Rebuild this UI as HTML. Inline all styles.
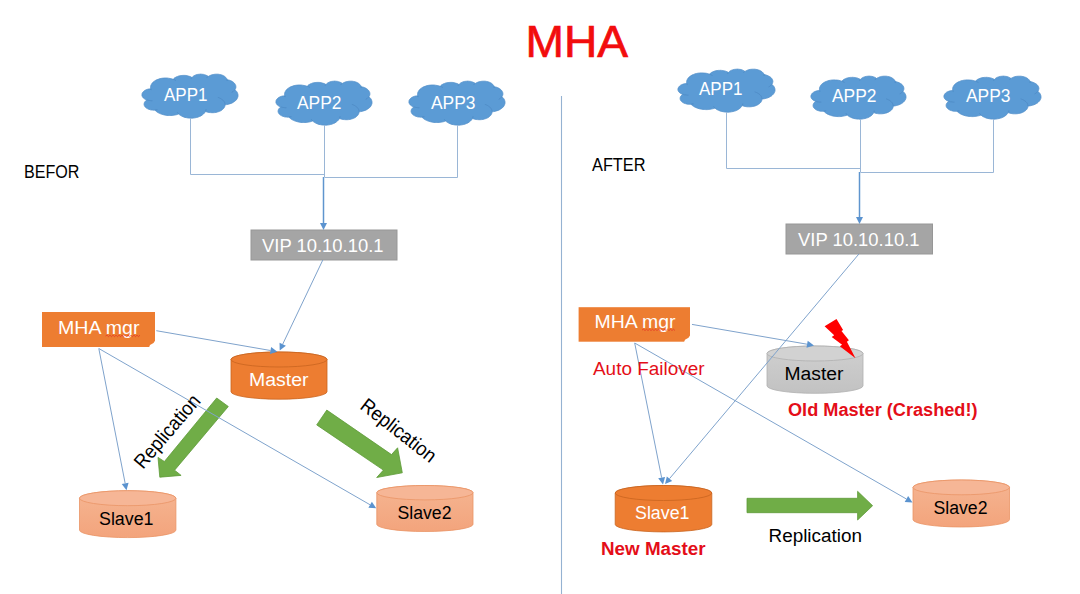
<!DOCTYPE html>
<html><head><meta charset="utf-8"><style>
html,body{margin:0;padding:0;background:#fff;width:1080px;height:594px;overflow:hidden}
svg{display:block}
text{font-family:"Liberation Sans", sans-serif}
</style></head><body>
<svg width="1080" height="594" viewBox="0 0 1080 594">
<defs>
<linearGradient id="gLO" x1="0" y1="0" x2="0" y2="1"><stop offset="0" stop-color="#F5B592"/><stop offset="1" stop-color="#F3A47C"/></linearGradient>
<linearGradient id="gGR" x1="0" y1="0" x2="0" y2="1"><stop offset="0" stop-color="#D0D0D0"/><stop offset="1" stop-color="#C2C2C2"/></linearGradient>
</defs>
<rect width="1080" height="594" fill="#fff"/>
<path d="M150.7,88.6L150.5,87.6L150.6,86.5L150.8,85.5L151.3,84.5L151.9,83.5L152.6,82.6L153.6,81.7L154.7,80.9L155.9,80.2L157.2,79.6L158.7,79.1L160.2,78.6L161.8,78.3L163.4,78.1L165.1,78.0L166.8,78.0L168.4,78.2L170.1,78.5L171.6,78.8L173.1,79.3L173.7,78.7L174.3,78.1L175.1,77.6L175.9,77.2L176.7,76.7L177.7,76.4L178.6,76.0L179.7,75.8L180.7,75.6L181.8,75.5L182.9,75.4L184.0,75.4L185.1,75.4L186.2,75.5L187.2,75.7L188.3,76.0L189.3,76.3L190.2,76.6L191.1,77.0L191.9,77.5L192.4,77.0L193.0,76.5L193.6,76.0L194.3,75.6L195.1,75.2L195.9,74.9L196.8,74.6L197.7,74.4L198.7,74.3L199.7,74.2L200.6,74.1L201.6,74.2L202.6,74.3L203.6,74.4L204.5,74.7L205.3,74.9L206.2,75.3L207.0,75.6L207.7,76.1L208.3,76.5L209.1,76.0L210.1,75.5L211.1,75.1L212.2,74.7L213.3,74.5L214.5,74.3L215.7,74.2L216.9,74.2L218.1,74.2L219.3,74.4L220.5,74.6L221.6,74.9L222.6,75.3L223.6,75.8L224.5,76.3L225.2,76.9L225.9,77.5L226.5,78.2L226.9,78.9L227.2,79.7L228.1,79.9L229.1,80.1L230.0,80.4L230.8,80.7L231.6,81.1L232.4,81.6L233.1,82.0L233.7,82.5L234.2,83.0L234.7,83.6L235.1,84.2L235.4,84.8L235.7,85.4L235.8,86.0L235.9,86.7L235.9,87.3L235.8,87.9L235.6,88.5L235.3,89.2L234.9,89.7L235.8,90.6L236.6,91.4L237.2,92.3L237.6,93.3L237.9,94.2L238.0,95.2L238.0,96.2L237.8,97.1L237.4,98.1L236.9,99.0L236.3,99.9L235.5,100.7L234.5,101.5L233.4,102.2L232.3,102.9L231.0,103.4L229.6,103.9L228.2,104.3L226.7,104.6L225.1,104.8L225.0,105.6L224.8,106.4L224.4,107.3L223.9,108.1L223.3,108.8L222.5,109.5L221.7,110.2L220.7,110.8L219.6,111.3L218.5,111.7L217.2,112.1L215.9,112.4L214.6,112.6L213.3,112.7L211.9,112.7L210.5,112.6L209.2,112.5L207.9,112.2L206.7,111.9L205.5,111.5L204.9,112.5L204.1,113.4L203.2,114.3L202.1,115.1L200.9,115.9L199.6,116.5L198.1,117.1L196.6,117.5L195.0,117.8L193.3,118.1L191.6,118.2L189.9,118.1L188.2,118.0L186.6,117.7L185.0,117.4L183.5,116.9L182.1,116.3L180.8,115.6L179.6,114.8L178.6,114.0L177.4,114.4L176.2,114.8L174.9,115.0L173.6,115.3L172.2,115.4L170.9,115.5L169.5,115.5L168.2,115.5L166.8,115.4L165.5,115.2L164.2,114.9L162.9,114.6L161.7,114.2L160.5,113.8L159.4,113.3L158.3,112.8L157.3,112.2L156.4,111.5L155.6,110.9L154.9,110.1L153.7,110.2L152.5,110.1L151.4,110.0L150.3,109.8L149.2,109.4L148.2,109.1L147.3,108.6L146.4,108.1L145.7,107.5L145.1,106.9L144.7,106.2L144.3,105.5L144.1,104.8L144.1,104.0L144.2,103.3L144.4,102.6L144.8,101.9L145.3,101.2L145.9,100.6L146.7,100.0L145.7,99.6L144.8,99.1L144.0,98.5L143.3,97.9L142.7,97.2L142.3,96.5L142.0,95.8L141.9,95.0L142.0,94.3L142.1,93.5L142.5,92.8L142.9,92.1L143.6,91.4L144.3,90.8L145.1,90.3L146.1,89.8L147.1,89.4L148.2,89.1L149.4,88.9L150.6,88.8Z" fill="#5B9BD5" stroke="#5490CA" stroke-width="0.8"/>
<path d="M152.4,100.7L151.9,100.7L151.5,100.7L151.0,100.7L150.5,100.6L150.0,100.6L149.5,100.5L149.0,100.4L148.6,100.4L148.1,100.3L147.7,100.1L147.2,100.0L146.8,99.8M157.4,109.5L157.2,109.6L157.0,109.6L156.8,109.7L156.6,109.7L156.4,109.8L156.2,109.8L156.0,109.8L155.8,109.8L155.6,109.9L155.4,109.9L155.1,109.9L154.9,109.9M178.6,113.8L178.5,113.7L178.3,113.5L178.2,113.4L178.1,113.2L177.9,113.1L177.8,113.0L177.7,112.8L177.6,112.7L177.4,112.5L177.3,112.4L177.2,112.2L177.1,112.0M206.1,109.4L206.0,109.6L206.0,109.7L206.0,109.9L205.9,110.1L205.9,110.2L205.8,110.4L205.8,110.5L205.7,110.7L205.7,110.9L205.6,111.0L205.5,111.2L205.5,111.3M217.8,97.4L218.9,97.7L219.9,98.2L220.8,98.6L221.7,99.2L222.5,99.7L223.1,100.4L223.7,101.0L224.2,101.7L224.6,102.4L224.9,103.2L225.0,103.9L225.1,104.6M234.9,89.6L234.7,89.9L234.5,90.2L234.3,90.4L234.0,90.6L233.8,90.9L233.5,91.1L233.3,91.3L233.0,91.6L232.7,91.8L232.3,92.0L232.0,92.2L231.7,92.4M227.2,79.5L227.2,79.6L227.2,79.7L227.2,79.8L227.3,80.0L227.3,80.1L227.3,80.2L227.3,80.3L227.3,80.4L227.3,80.5L227.3,80.6L227.3,80.7L227.3,80.8M206.6,78.0L206.7,77.9L206.8,77.7L207.0,77.6L207.1,77.4L207.2,77.3L207.3,77.2L207.5,77.0L207.6,76.9L207.8,76.8L207.9,76.6L208.1,76.5L208.3,76.4M191.2,78.8L191.2,78.7L191.3,78.6L191.3,78.4L191.4,78.3L191.5,78.2L191.5,78.1L191.6,78.0L191.7,77.8L191.7,77.7L191.8,77.6L191.9,77.5L192.0,77.4M173.1,79.3L173.4,79.4L173.6,79.5L173.9,79.6L174.1,79.7L174.4,79.8L174.6,79.9L174.9,80.0L175.1,80.2L175.3,80.3L175.6,80.4L175.8,80.5L176.0,80.7M151.2,90.1L151.1,90.0L151.1,89.8L151.0,89.7L151.0,89.6L150.9,89.5L150.9,89.4L150.8,89.2L150.8,89.1L150.8,89.0L150.7,88.9L150.7,88.8L150.7,88.6" fill="none" stroke="#4A84BF" stroke-width="0.6"/>
<path d="M284.7,95.6L284.5,94.6L284.6,93.5L284.8,92.5L285.3,91.5L285.9,90.5L286.6,89.6L287.6,88.7L288.7,87.9L289.9,87.2L291.2,86.6L292.7,86.1L294.2,85.6L295.8,85.3L297.4,85.1L299.1,85.0L300.8,85.0L302.4,85.2L304.1,85.5L305.6,85.8L307.1,86.3L307.7,85.7L308.3,85.1L309.1,84.6L309.9,84.2L310.7,83.7L311.7,83.4L312.6,83.0L313.7,82.8L314.7,82.6L315.8,82.5L316.9,82.4L318.0,82.4L319.1,82.4L320.2,82.5L321.2,82.7L322.3,83.0L323.3,83.3L324.2,83.6L325.1,84.0L325.9,84.5L326.4,84.0L327.0,83.5L327.6,83.0L328.3,82.6L329.1,82.2L329.9,81.9L330.8,81.6L331.7,81.4L332.7,81.3L333.7,81.2L334.6,81.1L335.6,81.2L336.6,81.3L337.6,81.4L338.5,81.7L339.3,81.9L340.2,82.3L341.0,82.6L341.7,83.1L342.3,83.5L343.1,83.0L344.1,82.5L345.1,82.1L346.2,81.7L347.3,81.5L348.5,81.3L349.7,81.2L350.9,81.2L352.1,81.2L353.3,81.4L354.5,81.6L355.6,81.9L356.6,82.3L357.6,82.8L358.5,83.3L359.2,83.9L359.9,84.5L360.5,85.2L360.9,85.9L361.2,86.7L362.1,86.9L363.1,87.1L364.0,87.4L364.8,87.7L365.6,88.1L366.4,88.6L367.1,89.0L367.7,89.5L368.2,90.0L368.7,90.6L369.1,91.2L369.4,91.8L369.7,92.4L369.8,93.0L369.9,93.7L369.9,94.3L369.8,94.9L369.6,95.5L369.3,96.2L368.9,96.7L369.8,97.6L370.6,98.4L371.2,99.3L371.6,100.3L371.9,101.2L372.0,102.2L372.0,103.2L371.8,104.1L371.4,105.1L370.9,106.0L370.3,106.9L369.5,107.7L368.5,108.5L367.4,109.2L366.3,109.9L365.0,110.4L363.6,110.9L362.2,111.3L360.7,111.6L359.1,111.8L359.0,112.6L358.8,113.4L358.4,114.3L357.9,115.1L357.3,115.8L356.5,116.5L355.7,117.2L354.7,117.8L353.6,118.3L352.5,118.7L351.2,119.1L349.9,119.4L348.6,119.6L347.3,119.7L345.9,119.7L344.5,119.6L343.2,119.5L341.9,119.2L340.7,118.9L339.5,118.5L338.9,119.5L338.1,120.4L337.2,121.3L336.1,122.1L334.9,122.9L333.6,123.5L332.1,124.1L330.6,124.5L329.0,124.8L327.3,125.1L325.6,125.2L323.9,125.1L322.2,125.0L320.6,124.7L319.0,124.4L317.5,123.9L316.1,123.3L314.8,122.6L313.6,121.8L312.6,121.0L311.4,121.4L310.2,121.8L308.9,122.0L307.6,122.3L306.2,122.4L304.9,122.5L303.5,122.5L302.2,122.5L300.8,122.4L299.5,122.2L298.2,121.9L296.9,121.6L295.7,121.2L294.5,120.8L293.4,120.3L292.3,119.8L291.3,119.2L290.4,118.5L289.6,117.9L288.9,117.1L287.7,117.2L286.5,117.1L285.4,117.0L284.3,116.8L283.2,116.4L282.2,116.1L281.3,115.6L280.4,115.1L279.7,114.5L279.1,113.9L278.7,113.2L278.3,112.5L278.1,111.8L278.1,111.0L278.2,110.3L278.4,109.6L278.8,108.9L279.3,108.2L279.9,107.6L280.7,107.0L279.7,106.6L278.8,106.1L278.0,105.5L277.3,104.9L276.7,104.2L276.3,103.5L276.0,102.8L275.9,102.0L276.0,101.3L276.1,100.5L276.5,99.8L276.9,99.1L277.6,98.4L278.3,97.8L279.1,97.3L280.1,96.8L281.1,96.4L282.2,96.1L283.4,95.9L284.6,95.8Z" fill="#5B9BD5" stroke="#5490CA" stroke-width="0.8"/>
<path d="M286.4,107.7L285.9,107.7L285.5,107.7L285.0,107.7L284.5,107.6L284.0,107.6L283.5,107.5L283.0,107.4L282.6,107.4L282.1,107.3L281.7,107.1L281.2,107.0L280.8,106.8M291.4,116.5L291.2,116.6L291.0,116.6L290.8,116.7L290.6,116.7L290.4,116.8L290.2,116.8L290.0,116.8L289.8,116.8L289.6,116.9L289.4,116.9L289.1,116.9L288.9,116.9M312.6,120.8L312.5,120.7L312.3,120.5L312.2,120.4L312.1,120.2L311.9,120.1L311.8,120.0L311.7,119.8L311.6,119.7L311.4,119.5L311.3,119.4L311.2,119.2L311.1,119.0M340.1,116.4L340.0,116.6L340.0,116.7L340.0,116.9L339.9,117.1L339.9,117.2L339.8,117.4L339.8,117.5L339.7,117.7L339.7,117.9L339.6,118.0L339.5,118.2L339.5,118.3M351.8,104.4L352.9,104.7L353.9,105.2L354.8,105.6L355.7,106.2L356.5,106.7L357.1,107.4L357.7,108.0L358.2,108.7L358.6,109.4L358.9,110.2L359.0,110.9L359.1,111.6M368.9,96.6L368.7,96.9L368.5,97.2L368.3,97.4L368.0,97.6L367.8,97.9L367.5,98.1L367.3,98.3L367.0,98.6L366.7,98.8L366.3,99.0L366.0,99.2L365.7,99.4M361.2,86.5L361.2,86.6L361.2,86.7L361.2,86.8L361.3,87.0L361.3,87.1L361.3,87.2L361.3,87.3L361.3,87.4L361.3,87.5L361.3,87.6L361.3,87.7L361.3,87.8M340.6,85.0L340.7,84.9L340.8,84.7L341.0,84.6L341.1,84.4L341.2,84.3L341.3,84.2L341.5,84.0L341.6,83.9L341.8,83.8L341.9,83.6L342.1,83.5L342.3,83.4M325.2,85.8L325.2,85.7L325.3,85.6L325.3,85.4L325.4,85.3L325.5,85.2L325.5,85.1L325.6,85.0L325.7,84.8L325.7,84.7L325.8,84.6L325.9,84.5L326.0,84.4M307.1,86.3L307.4,86.4L307.6,86.5L307.9,86.6L308.1,86.7L308.4,86.8L308.6,86.9L308.9,87.0L309.1,87.2L309.3,87.3L309.6,87.4L309.8,87.5L310.0,87.7M285.2,97.1L285.1,97.0L285.1,96.8L285.0,96.7L285.0,96.6L284.9,96.5L284.9,96.4L284.8,96.2L284.8,96.1L284.8,96.0L284.7,95.9L284.7,95.8L284.7,95.6" fill="none" stroke="#4A84BF" stroke-width="0.6"/>
<path d="M417.7,95.6L417.5,94.6L417.6,93.5L417.8,92.5L418.3,91.5L418.9,90.5L419.6,89.6L420.6,88.7L421.7,87.9L422.9,87.2L424.2,86.6L425.7,86.1L427.2,85.6L428.8,85.3L430.4,85.1L432.1,85.0L433.8,85.0L435.4,85.2L437.1,85.5L438.6,85.8L440.1,86.3L440.7,85.7L441.3,85.1L442.1,84.6L442.9,84.2L443.7,83.7L444.7,83.4L445.6,83.0L446.7,82.8L447.7,82.6L448.8,82.5L449.9,82.4L451.0,82.4L452.1,82.4L453.2,82.5L454.2,82.7L455.3,83.0L456.3,83.3L457.2,83.6L458.1,84.0L458.9,84.5L459.4,84.0L460.0,83.5L460.6,83.0L461.3,82.6L462.1,82.2L462.9,81.9L463.8,81.6L464.7,81.4L465.7,81.3L466.7,81.2L467.6,81.1L468.6,81.2L469.6,81.3L470.6,81.4L471.5,81.7L472.3,81.9L473.2,82.3L474.0,82.6L474.7,83.1L475.3,83.5L476.1,83.0L477.1,82.5L478.1,82.1L479.2,81.7L480.3,81.5L481.5,81.3L482.7,81.2L483.9,81.2L485.1,81.2L486.3,81.4L487.5,81.6L488.6,81.9L489.6,82.3L490.6,82.8L491.5,83.3L492.2,83.9L492.9,84.5L493.5,85.2L493.9,85.9L494.2,86.7L495.1,86.9L496.1,87.1L497.0,87.4L497.8,87.7L498.6,88.1L499.4,88.6L500.1,89.0L500.7,89.5L501.2,90.0L501.7,90.6L502.1,91.2L502.4,91.8L502.7,92.4L502.8,93.0L502.9,93.7L502.9,94.3L502.8,94.9L502.6,95.5L502.3,96.2L501.9,96.7L502.8,97.6L503.6,98.4L504.2,99.3L504.6,100.3L504.9,101.2L505.0,102.2L505.0,103.2L504.8,104.1L504.4,105.1L503.9,106.0L503.3,106.9L502.5,107.7L501.5,108.5L500.4,109.2L499.3,109.9L498.0,110.4L496.6,110.9L495.2,111.3L493.7,111.6L492.1,111.8L492.0,112.6L491.8,113.4L491.4,114.3L490.9,115.1L490.3,115.8L489.5,116.5L488.7,117.2L487.7,117.8L486.6,118.3L485.5,118.7L484.2,119.1L482.9,119.4L481.6,119.6L480.3,119.7L478.9,119.7L477.5,119.6L476.2,119.5L474.9,119.2L473.7,118.9L472.5,118.5L471.9,119.5L471.1,120.4L470.2,121.3L469.1,122.1L467.9,122.9L466.6,123.5L465.1,124.1L463.6,124.5L462.0,124.8L460.3,125.1L458.6,125.2L456.9,125.1L455.2,125.0L453.6,124.7L452.0,124.4L450.5,123.9L449.1,123.3L447.8,122.6L446.6,121.8L445.6,121.0L444.4,121.4L443.2,121.8L441.9,122.0L440.6,122.3L439.2,122.4L437.9,122.5L436.5,122.5L435.2,122.5L433.8,122.4L432.5,122.2L431.2,121.9L429.9,121.6L428.7,121.2L427.5,120.8L426.4,120.3L425.3,119.8L424.3,119.2L423.4,118.5L422.6,117.9L421.9,117.1L420.7,117.2L419.5,117.1L418.4,117.0L417.3,116.8L416.2,116.4L415.2,116.1L414.3,115.6L413.4,115.1L412.7,114.5L412.1,113.9L411.7,113.2L411.3,112.5L411.1,111.8L411.1,111.0L411.2,110.3L411.4,109.6L411.8,108.9L412.3,108.2L412.9,107.6L413.7,107.0L412.7,106.6L411.8,106.1L411.0,105.5L410.3,104.9L409.7,104.2L409.3,103.5L409.0,102.8L408.9,102.0L409.0,101.3L409.1,100.5L409.5,99.8L409.9,99.1L410.6,98.4L411.3,97.8L412.1,97.3L413.1,96.8L414.1,96.4L415.2,96.1L416.4,95.9L417.6,95.8Z" fill="#5B9BD5" stroke="#5490CA" stroke-width="0.8"/>
<path d="M419.4,107.7L418.9,107.7L418.5,107.7L418.0,107.7L417.5,107.6L417.0,107.6L416.5,107.5L416.0,107.4L415.6,107.4L415.1,107.3L414.7,107.1L414.2,107.0L413.8,106.8M424.4,116.5L424.2,116.6L424.0,116.6L423.8,116.7L423.6,116.7L423.4,116.8L423.2,116.8L423.0,116.8L422.8,116.8L422.6,116.9L422.4,116.9L422.1,116.9L421.9,116.9M445.6,120.8L445.5,120.7L445.3,120.5L445.2,120.4L445.1,120.2L444.9,120.1L444.8,120.0L444.7,119.8L444.6,119.7L444.4,119.5L444.3,119.4L444.2,119.2L444.1,119.0M473.1,116.4L473.0,116.6L473.0,116.7L473.0,116.9L472.9,117.1L472.9,117.2L472.8,117.4L472.8,117.5L472.7,117.7L472.7,117.9L472.6,118.0L472.5,118.2L472.5,118.3M484.8,104.4L485.9,104.7L486.9,105.2L487.8,105.6L488.7,106.2L489.5,106.7L490.1,107.4L490.7,108.0L491.2,108.7L491.6,109.4L491.9,110.2L492.0,110.9L492.1,111.6M501.9,96.6L501.7,96.9L501.5,97.2L501.3,97.4L501.0,97.6L500.8,97.9L500.5,98.1L500.3,98.3L500.0,98.6L499.7,98.8L499.3,99.0L499.0,99.2L498.7,99.4M494.2,86.5L494.2,86.6L494.2,86.7L494.2,86.8L494.3,87.0L494.3,87.1L494.3,87.2L494.3,87.3L494.3,87.4L494.3,87.5L494.3,87.6L494.3,87.7L494.3,87.8M473.6,85.0L473.7,84.9L473.8,84.7L474.0,84.6L474.1,84.4L474.2,84.3L474.3,84.2L474.5,84.0L474.6,83.9L474.8,83.8L474.9,83.6L475.1,83.5L475.3,83.4M458.2,85.8L458.2,85.7L458.3,85.6L458.3,85.4L458.4,85.3L458.5,85.2L458.5,85.1L458.6,85.0L458.7,84.8L458.7,84.7L458.8,84.6L458.9,84.5L459.0,84.4M440.1,86.3L440.4,86.4L440.6,86.5L440.9,86.6L441.1,86.7L441.4,86.8L441.6,86.9L441.9,87.0L442.1,87.2L442.3,87.3L442.6,87.4L442.8,87.5L443.0,87.7M418.2,97.1L418.1,97.0L418.1,96.8L418.0,96.7L418.0,96.6L417.9,96.5L417.9,96.4L417.8,96.2L417.8,96.1L417.8,96.0L417.7,95.9L417.7,95.8L417.7,95.6" fill="none" stroke="#4A84BF" stroke-width="0.6"/>
<rect x="251" y="230" width="146" height="30" fill="#A5A5A5" stroke="#979797" stroke-width="1"/>
<rect x="42" y="312" width="113" height="35" fill="#ED7D31"/>
<polygon points="155.5,340 155.5,347.5 149,347.5 150,345 153.5,343" fill="#fff"/>
<path d="M231,359.5 L231,391.7 A48.0,7.5 0 0 0 327,391.7 L327,359.5 A48.0,7.5 0 0 0 231,359.5 Z" fill="#ED7D31" stroke="#C9651F" stroke-width="0.8"/>
<ellipse cx="279.0" cy="359.5" rx="48.0" ry="7.5" fill="#ED7D31" stroke="#C9651F" stroke-width="0.8"/>
<path d="M79.5,498.2 L79.5,530.1 A48.2,7.5 0 0 0 175.9,530.1 L175.9,498.2 A48.2,7.5 0 0 0 79.5,498.2 Z" fill="url(#gLO)" stroke="#EA9466" stroke-width="0.8"/>
<ellipse cx="127.7" cy="498.2" rx="48.2" ry="7.5" fill="#F6B696" stroke="#EA9466" stroke-width="0.8"/>
<path d="M376.8,492.7 L376.8,524.3 A48.099999999999994,7.2 0 0 0 473,524.3 L473,492.7 A48.099999999999994,7.2 0 0 0 376.8,492.7 Z" fill="url(#gLO)" stroke="#EA9466" stroke-width="0.8"/>
<ellipse cx="424.9" cy="492.7" rx="48.099999999999994" ry="7.2" fill="#F6B696" stroke="#EA9466" stroke-width="0.8"/>
<polygon points="216.7,398.0 228.3,406.5 174.6,470.2 181.1,475.4 159.8,477.2 158.0,457.4 164.4,461.5" fill="#70AD47" stroke="#5E9A38" stroke-width="0.8"/>
<polygon points="326.8,410.1 316.7,424.9 383.4,470.1 376.7,477.5 402.3,472.8 397.6,447.8 391.5,454.6" fill="#70AD47" stroke="#5E9A38" stroke-width="0.8"/>
<path d="M686.8,83.3L686.6,82.3L686.7,81.3L686.9,80.3L687.4,79.3L688.0,78.3L688.7,77.4L689.7,76.6L690.8,75.8L692.0,75.1L693.4,74.5L694.8,73.9L696.4,73.5L698.0,73.2L699.7,73.0L701.3,72.9L703.0,73.0L704.7,73.1L706.4,73.3L707.9,73.7L709.4,74.2L710.0,73.6L710.7,73.1L711.4,72.5L712.2,72.1L713.1,71.7L714.0,71.3L715.0,71.0L716.0,70.7L717.1,70.6L718.2,70.4L719.3,70.4L720.4,70.3L721.5,70.4L722.6,70.5L723.7,70.7L724.7,70.9L725.7,71.2L726.7,71.6L727.6,72.0L728.4,72.4L728.9,71.9L729.5,71.4L730.1,71.0L730.9,70.5L731.6,70.2L732.5,69.9L733.4,69.6L734.3,69.4L735.3,69.3L736.3,69.2L737.3,69.1L738.3,69.2L739.2,69.3L740.2,69.4L741.1,69.6L742.0,69.9L742.8,70.2L743.6,70.6L744.3,71.0L745.0,71.5L745.8,70.9L746.8,70.5L747.8,70.0L748.9,69.7L750.1,69.4L751.2,69.3L752.5,69.2L753.7,69.2L754.9,69.2L756.1,69.4L757.3,69.6L758.4,69.9L759.5,70.3L760.5,70.8L761.3,71.3L762.1,71.8L762.8,72.5L763.3,73.1L763.8,73.8L764.0,74.6L765.0,74.7L766.0,75.0L766.9,75.3L767.7,75.6L768.5,76.0L769.3,76.4L770.0,76.8L770.6,77.3L771.2,77.8L771.7,78.4L772.1,79.0L772.4,79.5L772.6,80.1L772.8,80.8L772.9,81.4L772.8,82.0L772.7,82.6L772.5,83.2L772.3,83.8L771.9,84.4L772.8,85.2L773.6,86.0L774.2,86.9L774.6,87.8L774.9,88.8L775.0,89.7L775.0,90.7L774.8,91.6L774.4,92.5L773.9,93.4L773.2,94.3L772.4,95.1L771.5,95.9L770.4,96.6L769.2,97.2L767.9,97.8L766.5,98.2L765.1,98.6L763.5,98.9L762.0,99.1L761.9,99.9L761.7,100.7L761.3,101.5L760.8,102.3L760.2,103.0L759.4,103.7L758.5,104.3L757.5,104.9L756.4,105.4L755.3,105.9L754.0,106.2L752.7,106.5L751.4,106.7L750.0,106.8L748.6,106.8L747.3,106.8L745.9,106.6L744.6,106.4L743.3,106.0L742.1,105.6L741.5,106.6L740.8,107.5L739.8,108.4L738.7,109.2L737.5,109.9L736.2,110.6L734.7,111.1L733.1,111.5L731.5,111.8L729.8,112.1L728.1,112.2L726.4,112.1L724.7,112.0L723.1,111.7L721.5,111.4L719.9,110.9L718.5,110.3L717.2,109.7L716.0,108.9L715.0,108.1L713.8,108.5L712.5,108.8L711.2,109.1L709.9,109.3L708.6,109.5L707.2,109.6L705.8,109.6L704.4,109.5L703.1,109.4L701.7,109.2L700.4,109.0L699.1,108.7L697.9,108.3L696.7,107.9L695.5,107.4L694.5,106.9L693.5,106.3L692.6,105.7L691.8,105.0L691.0,104.3L689.8,104.3L688.7,104.3L687.5,104.2L686.3,103.9L685.3,103.6L684.2,103.3L683.3,102.8L682.5,102.3L681.8,101.7L681.2,101.1L680.7,100.5L680.3,99.8L680.2,99.1L680.1,98.3L680.2,97.6L680.4,96.9L680.8,96.2L681.3,95.6L682.0,95.0L682.7,94.4L681.7,94.0L680.8,93.5L680.0,93.0L679.3,92.4L678.7,91.7L678.3,91.0L678.0,90.3L677.9,89.5L678.0,88.8L678.1,88.1L678.5,87.4L679.0,86.7L679.6,86.0L680.3,85.4L681.2,84.9L682.1,84.5L683.2,84.1L684.3,83.8L685.5,83.6L686.7,83.4Z" fill="#5B9BD5" stroke="#5490CA" stroke-width="0.8"/>
<path d="M688.5,95.1L688.0,95.1L687.6,95.1L687.1,95.1L686.6,95.0L686.1,95.0L685.6,94.9L685.1,94.8L684.6,94.8L684.2,94.7L683.7,94.5L683.3,94.4L682.8,94.3M693.6,103.7L693.4,103.8L693.2,103.8L693.0,103.9L692.7,103.9L692.5,103.9L692.3,104.0L692.1,104.0L691.9,104.0L691.7,104.1L691.5,104.1L691.3,104.1L691.1,104.1M715.0,107.9L714.9,107.8L714.7,107.6L714.6,107.5L714.4,107.4L714.3,107.2L714.2,107.1L714.0,106.9L713.9,106.8L713.8,106.6L713.7,106.5L713.6,106.3L713.5,106.2M742.7,103.6L742.7,103.8L742.7,103.9L742.6,104.1L742.6,104.2L742.6,104.4L742.5,104.5L742.5,104.7L742.4,104.9L742.3,105.0L742.3,105.2L742.2,105.3L742.1,105.5M754.6,91.8L755.7,92.2L756.7,92.6L757.7,93.1L758.5,93.6L759.3,94.2L760.0,94.8L760.6,95.4L761.1,96.1L761.5,96.8L761.7,97.5L761.9,98.2L761.9,99.0M771.9,84.3L771.7,84.5L771.5,84.8L771.2,85.0L771.0,85.3L770.7,85.5L770.5,85.7L770.2,85.9L769.9,86.2L769.6,86.4L769.3,86.6L768.9,86.8L768.6,86.9M764.1,74.4L764.1,74.5L764.1,74.6L764.1,74.7L764.2,74.8L764.2,74.9L764.2,75.0L764.2,75.1L764.2,75.2L764.2,75.3L764.2,75.4L764.2,75.6L764.2,75.7M743.3,72.9L743.4,72.8L743.5,72.6L743.6,72.5L743.8,72.4L743.9,72.2L744.0,72.1L744.2,72.0L744.3,71.8L744.5,71.7L744.6,71.6L744.8,71.5L745.0,71.3M727.7,73.7L727.8,73.6L727.8,73.5L727.9,73.3L727.9,73.2L728.0,73.1L728.0,73.0L728.1,72.9L728.2,72.8L728.3,72.6L728.3,72.5L728.4,72.4L728.5,72.3M709.4,74.2L709.7,74.3L710.0,74.4L710.2,74.5L710.5,74.6L710.7,74.7L711.0,74.8L711.2,74.9L711.4,75.0L711.7,75.1L711.9,75.3L712.1,75.4L712.4,75.5M687.3,84.7L687.2,84.6L687.2,84.5L687.1,84.4L687.1,84.3L687.0,84.1L687.0,84.0L686.9,83.9L686.9,83.8L686.8,83.7L686.8,83.5L686.8,83.4L686.8,83.3" fill="none" stroke="#4A84BF" stroke-width="0.6"/>
<path d="M819.6,90.3L819.4,89.3L819.5,88.3L819.7,87.3L820.2,86.3L820.8,85.3L821.5,84.4L822.4,83.6L823.5,82.8L824.7,82.1L826.1,81.5L827.5,80.9L829.0,80.5L830.6,80.2L832.2,80.0L833.9,79.9L835.5,80.0L837.2,80.1L838.8,80.3L840.3,80.7L841.8,81.2L842.4,80.6L843.0,80.1L843.7,79.5L844.5,79.1L845.4,78.7L846.3,78.3L847.3,78.0L848.3,77.7L849.3,77.6L850.4,77.4L851.5,77.4L852.5,77.3L853.6,77.4L854.7,77.5L855.8,77.7L856.8,77.9L857.8,78.2L858.7,78.6L859.6,79.0L860.4,79.4L860.9,78.9L861.4,78.4L862.1,78.0L862.8,77.5L863.5,77.2L864.4,76.9L865.2,76.6L866.2,76.4L867.1,76.3L868.1,76.2L869.0,76.1L870.0,76.2L871.0,76.3L871.9,76.4L872.8,76.6L873.7,76.9L874.5,77.2L875.3,77.6L876.0,78.0L876.6,78.5L877.4,77.9L878.4,77.5L879.4,77.0L880.4,76.7L881.6,76.4L882.7,76.3L883.9,76.2L885.1,76.2L886.3,76.2L887.5,76.4L888.7,76.6L889.8,76.9L890.8,77.3L891.8,77.8L892.6,78.3L893.4,78.8L894.0,79.5L894.6,80.1L895.0,80.8L895.3,81.6L896.2,81.7L897.1,82.0L898.0,82.3L898.9,82.6L899.7,83.0L900.4,83.4L901.1,83.8L901.7,84.3L902.3,84.8L902.7,85.4L903.1,86.0L903.5,86.5L903.7,87.1L903.8,87.8L903.9,88.4L903.9,89.0L903.8,89.6L903.6,90.2L903.3,90.8L903.0,91.4L903.8,92.2L904.6,93.0L905.2,93.9L905.6,94.8L905.9,95.8L906.0,96.7L906.0,97.7L905.8,98.6L905.5,99.5L904.9,100.4L904.3,101.3L903.5,102.1L902.5,102.9L901.5,103.6L900.3,104.2L899.0,104.8L897.7,105.2L896.3,105.6L894.8,105.9L893.3,106.1L893.2,106.9L892.9,107.7L892.6,108.5L892.1,109.3L891.5,110.0L890.7,110.7L889.8,111.3L888.9,111.9L887.8,112.4L886.7,112.9L885.4,113.2L884.2,113.5L882.9,113.7L881.5,113.8L880.2,113.8L878.8,113.8L877.5,113.6L876.2,113.4L875.0,113.0L873.8,112.6L873.2,113.6L872.5,114.5L871.6,115.4L870.5,116.2L869.3,116.9L868.0,117.6L866.5,118.1L865.0,118.5L863.4,118.8L861.8,119.1L860.1,119.2L858.4,119.1L856.8,119.0L855.1,118.7L853.6,118.4L852.1,117.9L850.7,117.3L849.4,116.7L848.3,115.9L847.2,115.1L846.1,115.5L844.8,115.8L843.6,116.1L842.2,116.3L840.9,116.5L839.6,116.6L838.2,116.6L836.9,116.5L835.5,116.4L834.2,116.2L832.9,116.0L831.7,115.7L830.5,115.3L829.3,114.9L828.2,114.4L827.1,113.9L826.2,113.3L825.3,112.7L824.5,112.0L823.8,111.3L822.6,111.3L821.4,111.3L820.3,111.2L819.2,110.9L818.1,110.6L817.1,110.3L816.2,109.8L815.4,109.3L814.7,108.7L814.1,108.1L813.6,107.5L813.3,106.8L813.1,106.1L813.1,105.3L813.2,104.6L813.4,103.9L813.8,103.2L814.3,102.6L814.9,102.0L815.6,101.4L814.7,101.0L813.8,100.5L813.0,100.0L812.3,99.4L811.7,98.7L811.3,98.0L811.0,97.3L810.9,96.5L811.0,95.8L811.1,95.1L811.5,94.4L811.9,93.7L812.5,93.0L813.3,92.4L814.1,91.9L815.0,91.5L816.1,91.1L817.2,90.8L818.3,90.6L819.5,90.4Z" fill="#5B9BD5" stroke="#5490CA" stroke-width="0.8"/>
<path d="M821.3,102.1L820.8,102.1L820.4,102.1L819.9,102.1L819.4,102.0L818.9,102.0L818.4,101.9L818.0,101.8L817.5,101.8L817.1,101.7L816.6,101.5L816.2,101.4L815.7,101.3M826.2,110.7L826.0,110.8L825.8,110.8L825.6,110.9L825.4,110.9L825.2,110.9L825.0,111.0L824.8,111.0L824.6,111.0L824.4,111.1L824.2,111.1L824.0,111.1L823.8,111.1M847.2,114.9L847.1,114.8L847.0,114.6L846.8,114.5L846.7,114.4L846.6,114.2L846.4,114.1L846.3,113.9L846.2,113.8L846.1,113.6L846.0,113.5L845.9,113.3L845.8,113.2M874.4,110.6L874.4,110.8L874.3,110.9L874.3,111.1L874.3,111.2L874.2,111.4L874.2,111.5L874.1,111.7L874.1,111.9L874.0,112.0L873.9,112.2L873.9,112.3L873.8,112.5M886.1,98.8L887.1,99.2L888.1,99.6L889.0,100.1L889.9,100.6L890.6,101.2L891.3,101.8L891.9,102.4L892.4,103.1L892.7,103.8L893.0,104.5L893.2,105.2L893.2,106.0M902.9,91.3L902.7,91.5L902.5,91.8L902.3,92.0L902.1,92.3L901.8,92.5L901.6,92.7L901.3,92.9L901.0,93.2L900.7,93.4L900.4,93.6L900.1,93.8L899.7,93.9M895.3,81.4L895.3,81.5L895.3,81.6L895.4,81.7L895.4,81.8L895.4,81.9L895.4,82.0L895.4,82.1L895.4,82.2L895.4,82.3L895.4,82.4L895.4,82.6L895.4,82.7M874.9,79.9L875.1,79.8L875.2,79.6L875.3,79.5L875.4,79.4L875.5,79.2L875.7,79.1L875.8,79.0L875.9,78.8L876.1,78.7L876.3,78.6L876.4,78.5L876.6,78.3M859.7,80.7L859.7,80.6L859.8,80.5L859.8,80.3L859.9,80.2L860.0,80.1L860.0,80.0L860.1,79.9L860.2,79.8L860.2,79.6L860.3,79.5L860.4,79.4L860.5,79.3M841.8,81.2L842.0,81.3L842.3,81.4L842.5,81.5L842.8,81.6L843.0,81.7L843.3,81.8L843.5,81.9L843.8,82.0L844.0,82.1L844.2,82.3L844.4,82.4L844.6,82.5M820.1,91.7L820.0,91.6L820.0,91.5L819.9,91.4L819.9,91.3L819.8,91.1L819.8,91.0L819.7,90.9L819.7,90.8L819.7,90.7L819.6,90.5L819.6,90.4L819.6,90.3" fill="none" stroke="#4A84BF" stroke-width="0.6"/>
<path d="M952.8,90.3L952.6,89.3L952.7,88.3L952.9,87.3L953.4,86.3L954.0,85.3L954.7,84.4L955.7,83.6L956.8,82.8L958.0,82.1L959.4,81.5L960.8,80.9L962.4,80.5L964.0,80.2L965.7,80.0L967.3,79.9L969.0,80.0L970.7,80.1L972.4,80.3L973.9,80.7L975.4,81.2L976.0,80.6L976.7,80.1L977.4,79.5L978.2,79.1L979.1,78.7L980.0,78.3L981.0,78.0L982.0,77.7L983.1,77.6L984.2,77.4L985.3,77.4L986.4,77.3L987.5,77.4L988.6,77.5L989.7,77.7L990.7,77.9L991.7,78.2L992.7,78.6L993.6,79.0L994.4,79.4L994.9,78.9L995.5,78.4L996.1,78.0L996.9,77.5L997.6,77.2L998.5,76.9L999.4,76.6L1000.3,76.4L1001.3,76.3L1002.3,76.2L1003.3,76.1L1004.3,76.2L1005.2,76.3L1006.2,76.4L1007.1,76.6L1008.0,76.9L1008.8,77.2L1009.6,77.6L1010.3,78.0L1011.0,78.5L1011.8,77.9L1012.8,77.5L1013.8,77.0L1014.9,76.7L1016.1,76.4L1017.2,76.3L1018.5,76.2L1019.7,76.2L1020.9,76.2L1022.1,76.4L1023.3,76.6L1024.4,76.9L1025.5,77.3L1026.5,77.8L1027.3,78.3L1028.1,78.8L1028.8,79.5L1029.3,80.1L1029.8,80.8L1030.0,81.6L1031.0,81.7L1032.0,82.0L1032.9,82.3L1033.7,82.6L1034.5,83.0L1035.3,83.4L1036.0,83.8L1036.6,84.3L1037.2,84.8L1037.7,85.4L1038.1,86.0L1038.4,86.5L1038.6,87.1L1038.8,87.8L1038.9,88.4L1038.8,89.0L1038.7,89.6L1038.5,90.2L1038.3,90.8L1037.9,91.4L1038.8,92.2L1039.6,93.0L1040.2,93.9L1040.6,94.8L1040.9,95.8L1041.0,96.7L1041.0,97.7L1040.8,98.6L1040.4,99.5L1039.9,100.4L1039.2,101.3L1038.4,102.1L1037.5,102.9L1036.4,103.6L1035.2,104.2L1033.9,104.8L1032.5,105.2L1031.1,105.6L1029.5,105.9L1028.0,106.1L1027.9,106.9L1027.7,107.7L1027.3,108.5L1026.8,109.3L1026.2,110.0L1025.4,110.7L1024.5,111.3L1023.5,111.9L1022.4,112.4L1021.3,112.9L1020.0,113.2L1018.7,113.5L1017.4,113.7L1016.0,113.8L1014.6,113.8L1013.3,113.8L1011.9,113.6L1010.6,113.4L1009.3,113.0L1008.1,112.6L1007.5,113.6L1006.8,114.5L1005.8,115.4L1004.7,116.2L1003.5,116.9L1002.2,117.6L1000.7,118.1L999.1,118.5L997.5,118.8L995.8,119.1L994.1,119.2L992.4,119.1L990.7,119.0L989.1,118.7L987.5,118.4L985.9,117.9L984.5,117.3L983.2,116.7L982.0,115.9L981.0,115.1L979.8,115.5L978.5,115.8L977.2,116.1L975.9,116.3L974.6,116.5L973.2,116.6L971.8,116.6L970.4,116.5L969.1,116.4L967.7,116.2L966.4,116.0L965.1,115.7L963.9,115.3L962.7,114.9L961.5,114.4L960.5,113.9L959.5,113.3L958.6,112.7L957.8,112.0L957.0,111.3L955.8,111.3L954.7,111.3L953.5,111.2L952.3,110.9L951.3,110.6L950.2,110.3L949.3,109.8L948.5,109.3L947.8,108.7L947.2,108.1L946.7,107.5L946.3,106.8L946.2,106.1L946.1,105.3L946.2,104.6L946.4,103.9L946.8,103.2L947.3,102.6L948.0,102.0L948.7,101.4L947.7,101.0L946.8,100.5L946.0,100.0L945.3,99.4L944.7,98.7L944.3,98.0L944.0,97.3L943.9,96.5L944.0,95.8L944.1,95.1L944.5,94.4L945.0,93.7L945.6,93.0L946.3,92.4L947.2,91.9L948.1,91.5L949.2,91.1L950.3,90.8L951.5,90.6L952.7,90.4Z" fill="#5B9BD5" stroke="#5490CA" stroke-width="0.8"/>
<path d="M954.5,102.1L954.0,102.1L953.6,102.1L953.1,102.1L952.6,102.0L952.1,102.0L951.6,101.9L951.1,101.8L950.6,101.8L950.2,101.7L949.7,101.5L949.3,101.4L948.8,101.3M959.6,110.7L959.4,110.8L959.2,110.8L959.0,110.9L958.7,110.9L958.5,110.9L958.3,111.0L958.1,111.0L957.9,111.0L957.7,111.1L957.5,111.1L957.3,111.1L957.1,111.1M981.0,114.9L980.9,114.8L980.7,114.6L980.6,114.5L980.4,114.4L980.3,114.2L980.2,114.1L980.0,113.9L979.9,113.8L979.8,113.6L979.7,113.5L979.6,113.3L979.5,113.2M1008.7,110.6L1008.7,110.8L1008.7,110.9L1008.6,111.1L1008.6,111.2L1008.6,111.4L1008.5,111.5L1008.5,111.7L1008.4,111.9L1008.3,112.0L1008.3,112.2L1008.2,112.3L1008.1,112.5M1020.6,98.8L1021.7,99.2L1022.7,99.6L1023.7,100.1L1024.5,100.6L1025.3,101.2L1026.0,101.8L1026.6,102.4L1027.1,103.1L1027.5,103.8L1027.7,104.5L1027.9,105.2L1027.9,106.0M1037.9,91.3L1037.7,91.5L1037.5,91.8L1037.2,92.0L1037.0,92.3L1036.7,92.5L1036.5,92.7L1036.2,92.9L1035.9,93.2L1035.6,93.4L1035.3,93.6L1034.9,93.8L1034.6,93.9M1030.1,81.4L1030.1,81.5L1030.1,81.6L1030.1,81.7L1030.2,81.8L1030.2,81.9L1030.2,82.0L1030.2,82.1L1030.2,82.2L1030.2,82.3L1030.2,82.4L1030.2,82.6L1030.2,82.7M1009.3,79.9L1009.4,79.8L1009.5,79.6L1009.6,79.5L1009.8,79.4L1009.9,79.2L1010.0,79.1L1010.2,79.0L1010.3,78.8L1010.5,78.7L1010.6,78.6L1010.8,78.5L1011.0,78.3M993.7,80.7L993.8,80.6L993.8,80.5L993.9,80.3L993.9,80.2L994.0,80.1L994.0,80.0L994.1,79.9L994.2,79.8L994.3,79.6L994.3,79.5L994.4,79.4L994.5,79.3M975.4,81.2L975.7,81.3L976.0,81.4L976.2,81.5L976.5,81.6L976.7,81.7L977.0,81.8L977.2,81.9L977.4,82.0L977.7,82.1L977.9,82.3L978.1,82.4L978.4,82.5M953.3,91.7L953.2,91.6L953.2,91.5L953.1,91.4L953.1,91.3L953.0,91.1L953.0,91.0L952.9,90.9L952.9,90.8L952.8,90.7L952.8,90.5L952.8,90.4L952.8,90.3" fill="none" stroke="#4A84BF" stroke-width="0.6"/>
<rect x="786" y="224" width="146.5" height="30" fill="#A5A5A5" stroke="#979797" stroke-width="1"/>
<rect x="578.6" y="307.2" width="111.39999999999998" height="34.5" fill="#ED7D31"/>
<polygon points="690.5,334.7 690.5,342.2 684,342.2 685,339.7 688.5,337.7" fill="#fff"/>
<path d="M767,353.5 L767,385.8 A48.0,7.5 0 0 0 863,385.8 L863,353.5 A48.0,7.5 0 0 0 767,353.5 Z" fill="url(#gGR)" stroke="#B0B0B0" stroke-width="0.8"/>
<ellipse cx="815.0" cy="353.5" rx="48.0" ry="7.5" fill="#D2D2D2" stroke="#B0B0B0" stroke-width="0.8"/>
<polygon points="824.6,326.2 836.5,319.1 843.1,330.0 841.5,331.0 848.9,340.3 846.9,341.8 855.5,358.3 839.8,346.2 842.1,344.8 831.7,337.1 834.2,335.3" fill="#FF0000"/>
<path d="M615.2,493.0 L615.2,524.4 A48.299999999999955,7.5 0 0 0 711.8,524.4 L711.8,493.0 A48.299999999999955,7.5 0 0 0 615.2,493.0 Z" fill="#ED7D31" stroke="#C9651F" stroke-width="0.8"/>
<ellipse cx="663.5" cy="493.0" rx="48.299999999999955" ry="7.5" fill="#ED7D31" stroke="#C9651F" stroke-width="0.8"/>
<polygon points="747,498.3 857.6,498.3 857.6,491.3 872.6,505.7 857.6,520 857.6,512.7 747,512.7" fill="#70AD47" stroke="#5E9A38" stroke-width="0.8"/>
<path d="M913,487.4 L913,519.6 A48.25,7.4 0 0 0 1009.5,519.6 L1009.5,487.4 A48.25,7.4 0 0 0 913,487.4 Z" fill="url(#gLO)" stroke="#EA9466" stroke-width="0.8"/>
<ellipse cx="961.25" cy="487.4" rx="48.25" ry="7.4" fill="#F6B696" stroke="#EA9466" stroke-width="0.8"/>
<polyline points="190.5,118 190.5,174.5 324.5,174.5" fill="none" stroke="#9AB6D6" stroke-width="1"/>
<line x1="324.5" y1="125" x2="324.5" y2="177" stroke="#9AB6D6" stroke-width="1"/>
<polyline points="457.5,125 457.5,177.5 324.5,177.5" fill="none" stroke="#9AB6D6" stroke-width="1"/>
<line x1="323.5" y1="177" x2="323.50" y2="223.00" stroke="#5F95CE" stroke-width="1.5"/>
<polygon points="323.50,230.00 320.00,223.00 327.00,223.00" fill="#5B93CF"/>
<line x1="322.8" y1="260" x2="282.71" y2="344.18" stroke="#7FA3CC" stroke-width="1"/>
<polygon points="279.70,350.50 279.55,342.68 285.87,345.69" fill="#5B93CF"/>
<line x1="156.3" y1="330.7" x2="270.50" y2="350.50" stroke="#7FA3CC" stroke-width="1"/>
<polygon points="277.40,351.70 269.90,353.95 271.10,347.06" fill="#5B93CF"/>
<line x1="98.8" y1="348.5" x2="125.16" y2="483.33" stroke="#7FA3CC" stroke-width="1"/>
<polygon points="126.50,490.20 121.72,484.00 128.59,482.66" fill="#5B93CF"/>
<line x1="98.8" y1="348.5" x2="370.13" y2="504.81" stroke="#7FA3CC" stroke-width="1"/>
<polygon points="376.20,508.30 368.39,507.84 371.88,501.77" fill="#5B93CF"/>
<line x1="561.5" y1="96" x2="561.5" y2="594" stroke="#95B2D2" stroke-width="1.1"/>
<polyline points="726.5,112 726.5,168.5 860.5,168.5" fill="none" stroke="#9AB6D6" stroke-width="1"/>
<line x1="860.5" y1="119" x2="860.5" y2="172" stroke="#9AB6D6" stroke-width="1"/>
<polyline points="993.5,119 993.5,172.5 860.5,172.5" fill="none" stroke="#9AB6D6" stroke-width="1"/>
<line x1="859.5" y1="172" x2="859.50" y2="217.00" stroke="#5F95CE" stroke-width="1.5"/>
<polygon points="859.50,224.00 856.00,217.00 863.00,217.00" fill="#5B93CF"/>
<line x1="692" y1="324.4" x2="807.10" y2="344.21" stroke="#7FA3CC" stroke-width="1"/>
<polygon points="814.00,345.40 806.51,347.66 807.70,340.76" fill="#5B93CF"/>
<line x1="858.9" y1="254" x2="669.51" y2="478.65" stroke="#7FA3CC" stroke-width="1"/>
<polygon points="665.00,484.00 666.84,476.39 672.19,480.90" fill="#5B93CF"/>
<line x1="634.7" y1="343" x2="661.63" y2="477.64" stroke="#7FA3CC" stroke-width="1"/>
<polygon points="663.00,484.50 658.20,478.32 665.06,476.95" fill="#5B93CF"/>
<line x1="634.7" y1="343" x2="906.43" y2="499.01" stroke="#7FA3CC" stroke-width="1"/>
<polygon points="912.50,502.50 904.69,502.05 908.17,495.98" fill="#5B93CF"/>
<text x="525.5" y="57" font-size="45" fill="#F20D0D" font-weight="normal" textLength="102.5" lengthAdjust="spacingAndGlyphs" stroke="#F20D0D" stroke-width="0.7">MHA</text>
<text x="164" y="101" font-size="18" fill="#fff" font-weight="normal" textLength="43.5" lengthAdjust="spacingAndGlyphs">APP1</text>
<text x="297" y="109" font-size="18" fill="#fff" font-weight="normal" textLength="44.5" lengthAdjust="spacingAndGlyphs">APP2</text>
<text x="431" y="109" font-size="18" fill="#fff" font-weight="normal" textLength="44.5" lengthAdjust="spacingAndGlyphs">APP3</text>
<text x="262" y="251.5" font-size="18" fill="#fff" font-weight="normal" textLength="121.5" lengthAdjust="spacingAndGlyphs">VIP 10.10.10.1</text>
<text x="24" y="178" font-size="18" fill="#000" font-weight="normal" textLength="55.5" lengthAdjust="spacingAndGlyphs">BEFOR</text>
<text x="58" y="334" font-size="18" fill="#fff" font-weight="normal" textLength="81.5" lengthAdjust="spacingAndGlyphs">MHA mgr</text>
<path d="M105.5,336 L107.0,335.2 L108.5,336.6 L110.0,335.2 L111.5,336.6 L113.0,335.2 L114.5,336.6 L116.0,335.2 L117.5,336.6 L119.0,335.2 L120.5,336.6 L122.0,335.2 L123.5,336.6 L125.0,335.2 L126.5,336.6 L128.0,335.2 L129.5,336.6 L131.0,335.2 L132.5,336.6 L134.0,335.2 L135.5,336.6 L137.0,335.2 L138.5,336.6 L140.0,335.2" fill="none" stroke="#E02020" stroke-width="0.7" opacity="0.8"/>
<text x="249" y="386" font-size="18" fill="#fff" font-weight="normal" textLength="59.5" lengthAdjust="spacingAndGlyphs">Master</text>
<text x="99" y="525.3" font-size="18" fill="#000" font-weight="normal" textLength="54.5" lengthAdjust="spacingAndGlyphs">Slave1</text>
<text x="397.5" y="519.3" font-size="18" fill="#000" font-weight="normal" textLength="54.0" lengthAdjust="spacingAndGlyphs">Slave2</text>
<g transform="translate(143,470) rotate(-49.5)">
<text x="0" y="0" font-size="20" fill="#000" font-weight="normal" textLength="90" lengthAdjust="spacingAndGlyphs">Replication</text>
</g>
<g transform="translate(359,408) rotate(38)">
<text x="0" y="0" font-size="20" fill="#000" font-weight="normal" textLength="90" lengthAdjust="spacingAndGlyphs">Replication</text>
</g>
<text x="699" y="95" font-size="18" fill="#fff" font-weight="normal" textLength="43.5" lengthAdjust="spacingAndGlyphs">APP1</text>
<text x="832" y="102" font-size="18" fill="#fff" font-weight="normal" textLength="44.5" lengthAdjust="spacingAndGlyphs">APP2</text>
<text x="966" y="102" font-size="18" fill="#fff" font-weight="normal" textLength="44.5" lengthAdjust="spacingAndGlyphs">APP3</text>
<text x="798" y="245.6" font-size="18" fill="#fff" font-weight="normal" textLength="121.5" lengthAdjust="spacingAndGlyphs">VIP 10.10.10.1</text>
<text x="592" y="171" font-size="18" fill="#000" font-weight="normal" textLength="53.5" lengthAdjust="spacingAndGlyphs">AFTER</text>
<text x="594.5" y="328.2" font-size="18" fill="#fff" font-weight="normal" textLength="81.0" lengthAdjust="spacingAndGlyphs">MHA mgr</text>
<path d="M642,330 L643.5,329.2 L645.0,330.6 L646.5,329.2 L648.0,330.6 L649.5,329.2 L651.0,330.6 L652.5,329.2 L654.0,330.6 L655.5,329.2 L657.0,330.6 L658.5,329.2 L660.0,330.6 L661.5,329.2 L663.0,330.6 L664.5,329.2 L666.0,330.6 L667.5,329.2 L669.0,330.6 L670.5,329.2 L672.0,330.6 L673.5,329.2 L675.0,330.6" fill="none" stroke="#E02020" stroke-width="0.7" opacity="0.8"/>
<text x="593" y="375.2" font-size="18" fill="#E40E18" font-weight="normal" textLength="111.5" lengthAdjust="spacingAndGlyphs">Auto Failover</text>
<text x="784.5" y="380" font-size="18" fill="#000" font-weight="normal" textLength="59.0" lengthAdjust="spacingAndGlyphs">Master</text>
<text x="788" y="416" font-size="18" fill="#E40E18" font-weight="bold" textLength="189.5" lengthAdjust="spacingAndGlyphs">Old Master (Crashed!)</text>
<text x="635" y="519.2" font-size="18" fill="#fff" font-weight="normal" textLength="54.5" lengthAdjust="spacingAndGlyphs">Slave1</text>
<text x="601" y="555.3" font-size="18" fill="#E40E18" font-weight="bold" textLength="104.5" lengthAdjust="spacingAndGlyphs">New Master</text>
<text x="768.5" y="541.5" font-size="18" fill="#000" font-weight="normal" textLength="93.5" lengthAdjust="spacingAndGlyphs">Replication</text>
<text x="933.5" y="514" font-size="18" fill="#000" font-weight="normal" textLength="54.0" lengthAdjust="spacingAndGlyphs">Slave2</text>
</svg>
</body></html>
